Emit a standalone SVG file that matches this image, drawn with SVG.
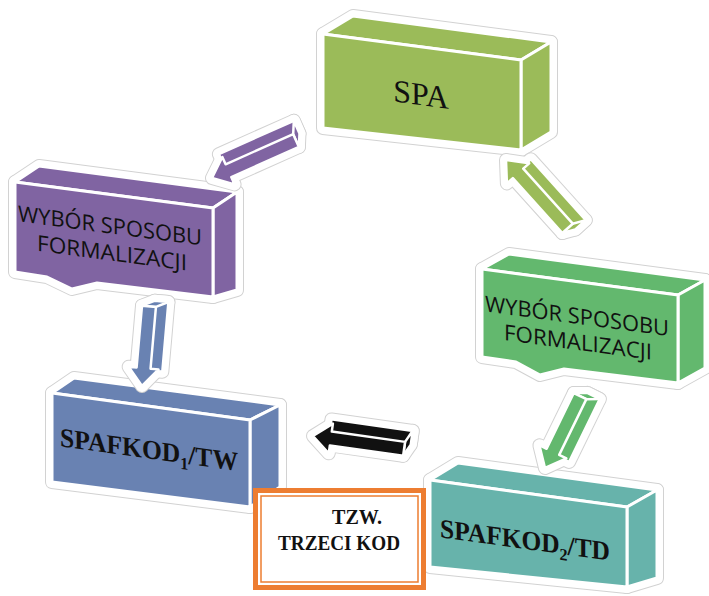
<svg xmlns="http://www.w3.org/2000/svg" width="709" height="596" viewBox="0 0 709 596">
<style>
.h1{fill:#fff;stroke:#d2d2d2;stroke-width:14;stroke-linejoin:round}
.h2{fill:#fff;stroke:#fff;stroke-width:12;stroke-linejoin:round}
.f{stroke:#fff;stroke-width:3;stroke-linejoin:round}
.af{stroke:#fff;stroke-width:2.5;stroke-linejoin:round}
.olive{fill:#9BBB59}
.purple{fill:#8064A2}
.green{fill:#63B86E}
.blue{fill:#6982B2}
.teal{fill:#67B3AB}
.black{fill:#111}
.sans{font-family:"Open Sans","Liberation Sans",sans-serif;font-size:22px;fill:#111;text-anchor:middle}
.serif{font-family:"Liberation Serif","Times New Roman",serif;fill:#111;text-anchor:middle}
.bold{font-weight:bold}
</style>
<defs>
<g id="g-spa">
<polygon points="323,34 353,16 551,42 521,60"/>
<polygon points="521,60 551,42 551,132 521,150"/>
<polygon points="323,34 521,60 521,150 323,128"/>
</g>
<g id="g-wl">
<polygon points="15,182 39,166 237,192 213,208"/>
<polygon points="213,208 237,192 237,290 213,297"/>
<polygon points="15,182 213,208 213,297 97,283 72,289 47,277 15,272"/>
</g>
<g id="g-wr">
<polygon points="482,269 509,254 705,280 678,295"/>
<polygon points="678,295 705,280 705,368 678,383"/>
<polygon points="482,269 678,295 678,383 564,369 540,375 516,362 482,357"/>
</g>
<g id="g-k1">
<polygon points="52,393 74,378 280,405 250,420"/>
<polygon points="250,420 280,405 280,487 250,507"/>
<polygon points="52,393 250,420 250,507 52,482"/>
</g>
<g id="g-k2">
<polygon points="430,480 458,463 657,490 627,507"/>
<polygon points="627,507 657,490 657,578 627,587"/>
<polygon points="430,480 627,507 627,587 430,567"/>
</g>
<g id="ar-up">
<path d="M16,-19 L98,-19 L98,-5 L16,-5 Z"/>
<path d="M92,-7 L98,-19 L98,-5 L92,7 Z"/>
<path d="M0,0 L18,-15 L18,-7 L92,-7 L92,7 L18,7 L18,15 Z"/>
</g>
<g id="ar-dn">
<path d="M16,5 L86,5 L86,19 L16,19 Z"/>
<path d="M80,-7 L86,5 L86,19 L80,7 Z"/>
<path d="M0,0 L18,-15 L18,-7 L80,-7 L80,7 L18,7 L18,15 Z"/>
</g>
</defs>

<g id="node-spa">
<use href="#g-spa" class="h1"/><use href="#g-spa" class="h2"/><use href="#g-spa" class="f olive"/>
<text class="serif" font-size="32" transform="skewY(7.73)" x="421" y="48">SPA</text>
</g>

<g id="node-wybor-left">
<use href="#g-wl" class="h1"/><use href="#g-wl" class="h2"/><use href="#g-wl" class="f purple"/>
<text class="sans" transform="skewY(7.46)" x="110" y="219" textLength="184" lengthAdjust="spacingAndGlyphs">WYBÓR SPOSOBU</text>
<text class="sans" transform="skewY(7.46)" x="112" y="246" textLength="150" lengthAdjust="spacingAndGlyphs">FORMALIZACJI</text>
</g>

<g id="node-wybor-right">
<use href="#g-wr" class="h1"/><use href="#g-wr" class="h2"/><use href="#g-wr" class="f green"/>
<text class="sans" transform="skewY(7.58)" x="577" y="247" textLength="184" lengthAdjust="spacingAndGlyphs">WYBÓR SPOSOBU</text>
<text class="sans" transform="skewY(7.58)" x="578" y="273" textLength="148" lengthAdjust="spacingAndGlyphs">FORMALIZACJI</text>
</g>

<g id="node-spafkod1">
<use href="#g-k1" class="h1"/><use href="#g-k1" class="h2"/><use href="#g-k1" class="f blue"/>
<text class="serif bold" font-size="27" transform="skewY(7.84)" x="149" y="438" textLength="178" lengthAdjust="spacingAndGlyphs">SPAFKOD<tspan font-size="17" dy="6">1</tspan><tspan dy="-6">/TW</tspan></text>
</g>

<g id="node-spafkod2">
<use href="#g-k2" class="h1"/><use href="#g-k2" class="h2"/><use href="#g-k2" class="f teal"/>
<text class="serif bold" font-size="27" transform="skewY(7.8)" x="525" y="477" textLength="170" lengthAdjust="spacingAndGlyphs">SPAFKOD<tspan font-size="17" dy="6">2</tspan><tspan dy="-6">/TD</tspan></text>
</g>

<g id="connectors">
<g transform="translate(212,178) rotate(-24)">
<use href="#ar-up" class="h1"/><use href="#ar-up" class="h2"/><use href="#ar-up" class="af purple"/>
</g>
<g transform="translate(506,160) rotate(48)">
<use href="#ar-up" class="h1"/><use href="#ar-up" class="h2"/><use href="#ar-up" class="af olive"/>
</g>
<g transform="translate(142,386) rotate(-85)">
<use href="#ar-dn" class="h1"/><use href="#ar-dn" class="h2"/><use href="#ar-dn" class="af blue"/>
</g>
<g transform="translate(545,468) rotate(-64)">
<use href="#ar-dn" class="h1"/><use href="#ar-dn" class="h2"/><use href="#ar-dn" class="af green"/>
</g>
<g transform="translate(313,436) rotate(8)">
<use href="#ar-up" class="h1"/><use href="#ar-up" class="h2"/><use href="#ar-up" class="af black"/>
</g>
</g>

<g id="node-trzeci-kod">
<rect x="255.5" y="490.5" width="168" height="97" fill="#fff" stroke="#ED7D31" stroke-width="5"/>
<rect x="261" y="496" width="157" height="86" fill="none" stroke="#ED7D31" stroke-width="1.5"/>
<text class="serif bold" font-size="20" x="332" y="524" style="text-anchor:start" textLength="50" lengthAdjust="spacingAndGlyphs">TZW.</text>
<text class="serif bold" font-size="20" x="278" y="550" style="text-anchor:start" textLength="122" lengthAdjust="spacingAndGlyphs">TRZECI KOD</text>
</g>
</svg>
